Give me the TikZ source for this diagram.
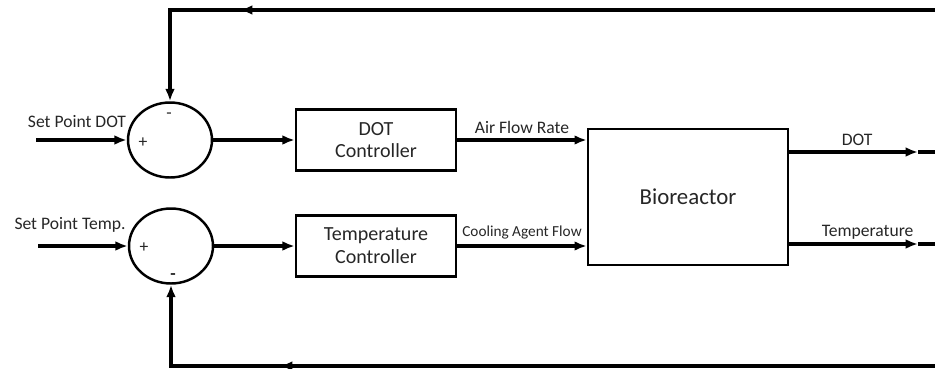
\documentclass[tikz,border=0pt]{standalone}
\usepackage{tikz}
\usetikzlibrary{shapes,arrows,arrows.meta,positioning,calc}
\usepackage{fontspec}
\setmainfont{Carlito}
\usepackage{xcolor}
\definecolor{fbInk}{HTML}{000000}
\definecolor{fbText}{HTML}{262626}
\tikzset{
  blk/.style={draw=fbInk, line width=1.4pt, minimum width=3.2cm, minimum height=1.22cm, inner sep=2pt, font=\fontsize{11.4}{13}\selectfont, text=fbText, align=center},
  plantblk/.style={blk, minimum width=4cm, minimum height=2.72cm, font=\fontsize{13}{15}\selectfont},
  sumn/.style={ellipse, draw=fbInk, line width=1.4pt, minimum width=1.68cm, minimum height=1.5cm, inner sep=0pt},
  arr/.style={-{Latex[length=7pt,width=5.5pt]}, line width=1.8pt, draw=fbInk},
  ln/.style={line width=1.8pt, draw=fbInk},
  lbl/.style={font=\fontsize{10}{12}\selectfont, text=fbText, inner sep=0pt},
  sgn/.style={font=\fontsize{10}{12}\selectfont, text=fbText, inner sep=0pt},
}
\begin{document}
\begin{tikzpicture}[x=0.02cm, y=-0.02cm]
            \useasboundingbox (0,0) rectangle (935,368);
            \node[sumn] (s1) at (170,140) {};
            \node[sumn] (s2) at (171,246) {};
            \node[blk] (c1) at (376,140) {DOT\\Controller};
            \node[blk] (c2) at (376,246) {Temperature\\Controller};
            \node[plantblk] (bio) at (688,197) {Bioreactor};
            % signs
            \node[sgn] (p1) at (143,143) {+};
            \node[sgn] (m1) at (169,116) {-};
            \node[sgn] (p2) at (144,248) {+};
            \node[sgn, font=\bfseries] (m2) at (173,277) {-};
            % inputs and outputs
            \coordinate (in1) at (36,140);
            \coordinate (in2) at (38,246);
            \coordinate (o1) at (918,152);
            \coordinate (o2) at (918,244);
            \coordinate (r1) at (940,10);
            \coordinate (r2) at (940,366);
            \coordinate (t1) at (240,10);
            \coordinate (t2) at (280,366);
            \node[lbl] (sp1) at (77,122) {Set Point DOT};
            \node[lbl] (sp2) at (70,225) {Set Point Temp.};
            \draw[arr] (in1) -- (s1.west);
            \draw[arr] (in2) -- (s2.west);
            \draw[arr] (s1.east) -- (c1.west);
            \draw[arr] (s2.east) -- (c2.west);
            \draw[arr] (c1.east) -- node[lbl, above=3pt] (afr) {Air Flow Rate} (c1.east -| bio.west);
            \draw[arr] (c2.east) -- node[lbl, above=3pt, font=\fontsize{8.7}{10}\selectfont] (caf) {Cooling Agent Flow} (c2.east -| bio.west);
            \draw[arr] (o1 -| bio.east) -- node[lbl, above=3pt, xshift=2pt] (dot) {DOT} (o1);
            \draw[arr] (o2 -| bio.east) -- node[lbl, above=2pt, xshift=8pt] (tmp) {Temperature} (o2);
            % feedback loops
            \draw[ln] (o1) -- (o1 -| r1) -- (r1) -- (t1);
            \draw[arr] (r1) -- (t1);
            \draw[arr] (t1) -| (s1.north);
            \draw[ln] (o2) -- (o2 -| r2) -- (r2) -- (t2);
            \draw[arr] (r2) -- (t2);
            \draw[arr] (t2) -| (s2.south);
        \end{tikzpicture}
\end{document}
